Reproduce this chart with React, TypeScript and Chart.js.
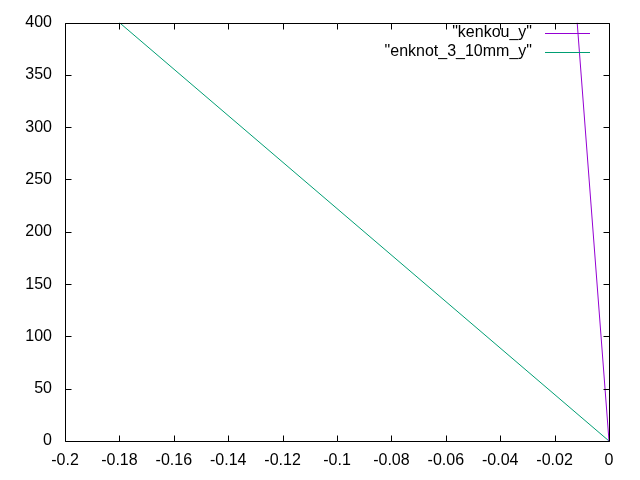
import React, { useEffect, useRef } from "react";
import { Chart, registerables } from "chart.js";

Chart.register(...registerables);

const seriesNames = ['"kenkou_y"', '"enknot_3_10mm_y"'];
const seriesColors = ["#9400d3", "#009e73"];
const kenkouX = [0, -0.0117];
const kenkouY = [0, 400];
const enknotX = [0, -0.18];
const enknotY = [0, 400];
const xMin = -0.2, xMax = 0, xStep = 0.02;
const yMin = 0, yMax = 400, yStep = 50;

const FONT = "'Liberation Sans', Arial, sans-serif";

const framePlugin = {
  id: "frame",
  afterDraw(chart: any) {
    const { ctx, chartArea: a, scales } = chart;
    const xs = scales.x, ys = scales.y;
    ctx.save();
    ctx.strokeStyle = "#000";
    ctx.lineWidth = 1;
    ctx.beginPath();
    const L = Math.round(a.left) + 0.5, R = Math.round(a.right) + 0.5;
    const T = Math.round(a.top) + 0.5, B = Math.round(a.bottom) + 0.5;
    ctx.rect(L, T, R - L, B - T);
    const tl = 6;
    for (let v = xMin; v <= xMax + 1e-9; v += xStep) {
      const px = Math.round(xs.getPixelForValue(v)) + 0.5;
      ctx.moveTo(px, B); ctx.lineTo(px, B - tl);
      ctx.moveTo(px, T); ctx.lineTo(px, T + tl);
    }
    for (let v = yMin; v <= yMax + 1e-9; v += yStep) {
      const py = Math.round(ys.getPixelForValue(v)) + 0.5;
      ctx.moveTo(L, py); ctx.lineTo(L + tl, py);
      ctx.moveTo(R, py); ctx.lineTo(R - tl, py);
    }
    ctx.stroke();
    // legend
    ctx.font = `16px ${FONT}`;
    ctx.textAlign = "right";
    ctx.textBaseline = "middle";
    const rows = [33, 52];
    seriesNames.forEach((n, i) => {
      ctx.fillStyle = "#000";
      ctx.fillText(n, 532, rows[i]);
      ctx.strokeStyle = seriesColors[i];
      ctx.beginPath();
      ctx.moveTo(545, rows[i] + 0.5);
      ctx.lineTo(590, rows[i] + 0.5);
      ctx.stroke();
    });
    ctx.restore();
  },
};

export default function App() {
  const ref = useRef<HTMLCanvasElement>(null);
  useEffect(() => {
    document.body.style.margin = "0";
    const chart = new Chart(ref.current!, {
      type: "scatter",
      data: {
        datasets: [
          {
            label: seriesNames[0],
            data: kenkouX.map((x, i) => ({ x, y: kenkouY[i] })),
            borderColor: seriesColors[0],
            backgroundColor: seriesColors[0],
            showLine: true,
            borderWidth: 1,
            pointRadius: 0,
          },
          {
            label: seriesNames[1],
            data: enknotX.map((x, i) => ({ x, y: enknotY[i] })),
            borderColor: seriesColors[1],
            backgroundColor: seriesColors[1],
            showLine: true,
            borderWidth: 1,
            pointRadius: 0,
          },
        ],
      },
      options: {
        animation: false,
        responsive: false,
        layout: { padding: { top: 20, right: 31, left: 0, bottom: 0 } },
        plugins: { legend: { display: false }, tooltip: { enabled: false } },
        scales: {
          x: {
            type: "linear",
            min: xMin,
            max: xMax,
            afterFit(s: any) { s.height = 39; },
            afterBuildTicks(s: any) {
              const t = [];
              for (let v = xMin; v <= xMax + 1e-9; v += xStep) t.push({ value: Number(v.toFixed(2)) });
              s.ticks = t;
            },
            grid: { display: false, drawTicks: false },
            border: { display: false },
            ticks: {
              color: "#000",
              padding: 10,
              font: { family: FONT, size: 16 },
              maxRotation: 0,
              autoSkip: false,
              callback: (v: any) => String(Number(Number(v).toFixed(2))),
            },
          },
          y: {
            type: "linear",
            min: yMin,
            max: yMax,
            afterFit(s: any) { s.width = 65; },
            grid: { display: false, drawTicks: false },
            border: { display: false },
            ticks: {
              color: "#000",
              padding: 13,
              stepSize: yStep,
              font: { family: FONT, size: 16 },
              autoSkip: false,
            },
          },
        },
      },
      plugins: [framePlugin],
    });
    return () => chart.destroy();
  }, []);
  return (
    <div style={{ position: "fixed", left: 0, top: 0, width: 640, height: 480, background: "#fff" }}>
      <canvas ref={ref} width={640} height={480} style={{ width: 640, height: 480 }} />
    </div>
  );
}
